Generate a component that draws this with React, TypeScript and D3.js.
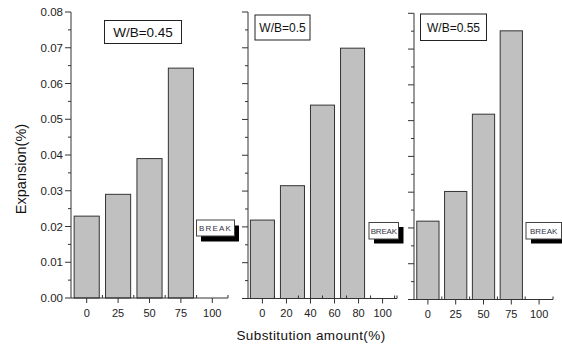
import React from 'react';
import * as d3 from 'd3';

// data
const panelLabels = ['W/B=0.45', 'W/B=0.5', 'W/B=0.55'];
const barPositions = [0, 25, 50, 75];
const expansion045 = [0.0229, 0.029, 0.039, 0.0643];
const expansion050 = [0.0219, 0.0315, 0.054, 0.0699];
const expansion055 = [0.0219, 0.0302, 0.0518, 0.0751];
const xTicksA = [0, 25, 50, 75, 100];
const xTicksB = [0, 20, 40, 60, 80, 100];
const yTicks = [0, 0.01, 0.02, 0.03, 0.04, 0.05, 0.06, 0.07, 0.08];

const FONT = 'Arial, "Liberation Sans", sans-serif';

interface PanelLayout {
  left: number;
  right: number;
  bottom: number;
  top: number;
  xDomain: [number, number];
  xTicks: number[];
  values: number[];
  label: string;
  labelBox: { x: number; y: number; w: number; h: number; size: number };
  breakBox: { x: number; y: number; w: number; h: number; dx: number; dy: number; spacing: number };
  showYLabels: boolean;
}

const panels: PanelLayout[] = [
  {
    left: 71, right: 228, bottom: 298, top: 12,
    xDomain: [-12.5, 112.5], xTicks: xTicksA, values: expansion045, label: panelLabels[0],
    labelBox: { x: 104.5, y: 20.5, w: 77, h: 23, size: 13.5 },
    breakBox: { x: 196.5, y: 220, w: 38, h: 16, dx: 4.5, dy: 5.5, spacing: 1.2 },
    showYLabels: true,
  },
  {
    left: 248, right: 397, bottom: 298.5, top: 12,
    xDomain: [-12, 112], xTicks: xTicksB, values: expansion050, label: panelLabels[1],
    labelBox: { x: 255, y: 15, w: 55, h: 25, size: 12 },
    breakBox: { x: 369, y: 222.5, w: 29.5, h: 16.5, dx: 5, dy: 4.5, spacing: -0.2 },
    showYLabels: false,
  },
  {
    left: 414, right: 553, bottom: 299.5, top: 13.3,
    xDomain: [-12.5, 112.5], xTicks: xTicksA, values: expansion055, label: panelLabels[2],
    labelBox: { x: 420.5, y: 14, w: 66, h: 26.5, size: 12 },
    breakBox: { x: 526, y: 222.5, w: 35.5, h: 16.5, dx: 5, dy: 4.5, spacing: 0.1 },
    showYLabels: false,
  },
];

const Panel: React.FC<{ p: PanelLayout }> = ({ p }) => {
  const x = d3.scaleLinear().domain(p.xDomain).range([p.left, p.right]);
  const y = d3.scaleLinear().domain([0, 0.08]).range([p.bottom, p.top]);
  const barW = x(20) - x(0);
  const step = p.xTicks[1] - p.xTicks[0];
  const minorX = p.xTicks.map((t) => t + step / 2).filter((t) => t < p.xDomain[1]);
  const minorY = yTicks.slice(0, -1).map((t) => t + 0.005);
  const fmt = d3.format('.2f');
  const bb = p.breakBox;
  const lb = p.labelBox;

  return (
    <g>
      {p.values.map((v, i) => (
        <rect
          key={i}
          x={x(barPositions[i]) - barW / 2}
          y={y(v)}
          width={barW}
          height={y(0) - y(v)}
          fill="#c0c0c0"
          stroke="#333"
          strokeWidth={1}
        />
      ))}
      {/* y axis */}
      <line x1={p.left} x2={p.left} y1={y(0)} y2={y(0.08)} stroke="#333" strokeWidth={1} />
      {yTicks.map((t) => (
        <g key={t}>
          <line x1={p.left - 6} x2={p.left} y1={y(t)} y2={y(t)} stroke="#333" />
          {p.showYLabels && (
            <text x={p.left - 8} y={y(t)} dy="0.35em" textAnchor="end" fontSize={11.5} fontFamily={FONT} fill="#222">
              {fmt(t)}
            </text>
          )}
        </g>
      ))}
      {minorY.map((t) => (
        <line key={t} x1={p.left - 3} x2={p.left} y1={y(t)} y2={y(t)} stroke="#333" />
      ))}
      {/* x axis */}
      <line x1={p.left} x2={p.right} y1={y(0)} y2={y(0)} stroke="#333" strokeWidth={1} />
      {p.xTicks.map((t) => (
        <g key={t}>
          <line x1={x(t)} x2={x(t)} y1={y(0)} y2={y(0) + 5} stroke="#333" />
          <text x={x(t)} y={y(0) + 15} dy="0.35em" textAnchor="middle" fontSize={11} fontFamily={FONT} fill="#222">
            {t}
          </text>
        </g>
      ))}
      {minorX.map((t) => (
        <line key={t} x1={x(t)} x2={x(t)} y1={y(0) - 3} y2={y(0)} stroke="#333" />
      ))}
      <line x1={p.right} x2={p.right} y1={y(0) - 3} y2={y(0)} stroke="#333" />
      {/* label box */}
      <rect x={lb.x} y={lb.y} width={lb.w} height={lb.h} fill="#fff" stroke="#222" strokeWidth={1} />
      <text x={lb.x + lb.w / 2} y={lb.y + lb.h / 2} dy="0.36em" textAnchor="middle" fontSize={lb.size} fontFamily={FONT} fill="#111">
        {p.label}
      </text>
      {/* break marker */}
      <rect x={bb.x + bb.dx} y={bb.y + bb.dy} width={bb.w} height={bb.h} fill="#000" />
      <rect x={bb.x} y={bb.y} width={bb.w} height={bb.h} fill="#fff" stroke="#444" strokeWidth={1} />
      <text
        x={bb.x + bb.w / 2}
        y={bb.y + bb.h / 2}
        dy="0.36em"
        textAnchor="middle"
        fontSize={8}
        fontFamily={FONT}
        letterSpacing={bb.spacing}
        fill="#334"
      >
        BREAK
      </text>
    </g>
  );
};

export default function App() {
  return (
    <svg width={562} height={347} style={{ position: 'absolute', left: 0, top: 0, background: '#fff' }}>
      <rect width={562} height={347} fill="#fff" />
      {panels.map((p, i) => (
        <Panel key={i} p={p} />
      ))}
      <text
        transform="translate(26,169) rotate(-90)"
        textAnchor="middle"
        fontSize={14.5}
        fontFamily={FONT}
        fill="#111"
      >
        Expansion(%)
      </text>
      <text x={311} y={340} textAnchor="middle" fontSize={13.5} letterSpacing={0.4} fontFamily={FONT} fill="#111">
        Substitution amount(%)
      </text>
    </svg>
  );
}
